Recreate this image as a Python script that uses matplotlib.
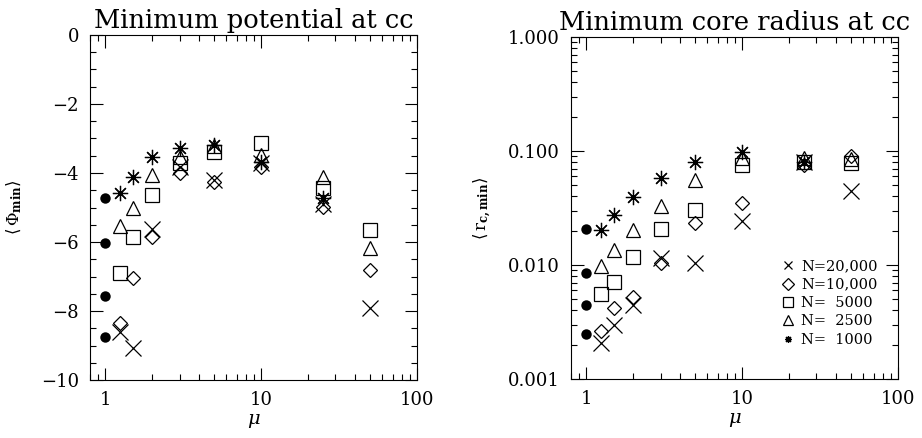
import matplotlib as mpl

mpl.use("Agg")

import matplotlib.pyplot as plt
from matplotlib.lines import Line2D
from matplotlib.ticker import FixedLocator, FuncFormatter, LogLocator, MultipleLocator, NullFormatter

plt.rcParams["font.family"] = ["DejaVu Serif"]
plt.rcParams["mathtext.fontset"] = "dejavuserif"

# mass ratio mu
mu = [1.25, 1.5, 2, 3, 5, 10, 25, 50]
mu_eq = [1, 1, 1, 1]

# minimum potential at core collapse
phi_eq = [-4.73, -6.04, -7.57, -8.76]
phi_n20000 = [-8.60, -9.08, -5.63, -3.82, -4.20, -3.72, -4.90, -7.92]
phi_n10000 = [-8.34, -7.05, -5.86, -4.01, -4.25, -3.82, -4.98, -6.81]
phi_n5000 = [-6.91, -5.86, -4.64, -3.72, -3.39, -3.12, -4.44, -5.65]
phi_n2500 = [-5.54, -5.02, -4.06, -3.55, -3.22, -3.48, -4.11, -6.18]
phi_n1000 = [-4.59, -4.11, -3.53, -3.27, -3.19, -3.69, -4.73, None]

# minimum core radius at core collapse
rc_eq = [0.0205, 0.00858, 0.00446, 0.00249]
rc_n20000 = [0.00209, 0.00299, 0.00446, 0.0116, 0.0104, 0.0243, 0.080, 0.0446]
rc_n10000 = [0.00266, 0.00418, 0.00528, 0.0105, 0.0234, 0.0353, 0.075, 0.090]
rc_n5000 = [0.00553, 0.00714, 0.0118, 0.0205, 0.0303, 0.075, 0.080, 0.079]
rc_n2500 = [0.0099, 0.0135, 0.0202, 0.033, 0.056, 0.086, 0.086, 0.085]
rc_n1000 = [0.0203, 0.0274, 0.0397, 0.0585, 0.080, 0.098, 0.080, None]

labels = ["N=20,000", "N=10,000", "N=  5000", "N=  2500", "N=  1000"]

ASTER = (8, 2, 0)
styles = [
    dict(marker="x", ms=11),
    dict(marker="D", ms=7.5),
    dict(marker="s", ms=10),
    dict(marker="^", ms=10.5),
    dict(marker=ASTER, ms=11),
]


def draw_series(ax, series, eq):
    for ys, st in zip(series, styles):
        pts = [(x, y) for x, y in zip(mu, ys) if y is not None]
        ax.plot([p[0] for p in pts], [p[1] for p in pts], linestyle="none",
                marker=st["marker"], markersize=st["ms"], markerfacecolor="none",
                markeredgecolor="black", markeredgewidth=0.9, color="black")
    ax.plot(mu_eq, eq, linestyle="none", marker="o", markersize=7.5,
            color="black", markeredgewidth=0)


def style_axes(ax):
    ax.set_xscale("log")
    ax.set_xlim(0.8, 100)
    ax.tick_params(which="both", direction="in", top=True, right=True, labelsize=13, pad=8)
    ax.tick_params(which="major", length=9, width=0.8)
    ax.tick_params(which="minor", length=4.5, width=0.8)
    ax.xaxis.set_major_formatter(FuncFormatter(lambda v, p: f"{v:g}"))
    ax.xaxis.set_minor_formatter(NullFormatter())
    ax.set_xlabel(r"$\mu$", fontsize=14, labelpad=2)
    for s in ax.spines.values():
        s.set_linewidth(0.8)


fig = plt.figure(figsize=(9.22, 4.38), dpi=100)
ax1 = fig.add_axes([0.0976, 0.1324, 0.3547, 0.7877])
ax2 = fig.add_axes([0.6193, 0.1347, 0.3547, 0.7808])

draw_series(ax1, [phi_n20000, phi_n10000, phi_n5000, phi_n2500, phi_n1000], phi_eq)
style_axes(ax1)
ax1.set_ylim(-10, 0)
ax1.yaxis.set_major_locator(MultipleLocator(2))
ax1.yaxis.set_minor_locator(MultipleLocator(0.5))
ax1.yaxis.set_major_formatter(FuncFormatter(lambda v, p: f"{v:.0f}".replace("-", "\u2212")))
ax1.set_ylabel(r"$\langle\,\Phi_{\mathbf{min}}\rangle$", fontsize=12, labelpad=12)
ax1.set_title("Minimum potential at cc", fontsize=18.5, pad=5)

draw_series(ax2, [rc_n20000, rc_n10000, rc_n5000, rc_n2500, rc_n1000], rc_eq)
style_axes(ax2)
ax2.set_yscale("log")
ax2.set_ylim(0.001, 1.0)
ax2.yaxis.set_major_locator(FixedLocator([0.001, 0.01, 0.1, 1.0]))
ax2.yaxis.set_minor_locator(LogLocator(base=10, subs=range(2, 10)))
ax2.yaxis.set_major_formatter(FuncFormatter(lambda v, p: f"{v:.3f}"))
ax2.yaxis.set_minor_formatter(NullFormatter())
ax2.set_ylabel(r"$\langle\,\mathrm{r}_{\mathbf{c,min}}\rangle$", fontsize=12, labelpad=10)
ax2.set_title("Minimum core radius at cc", fontsize=18.5, pad=5)

handles = []
leg_ms = [6, 6, 7, 7, 5]
leg_markers = ["x", "D", "s", "^", ASTER]
for mk, lab, m in zip(leg_markers, labels, leg_ms):
    handles.append(Line2D([], [], linestyle="none", marker=mk, markersize=m,
                          markerfacecolor="none", markeredgecolor="black",
                          markeredgewidth=0.9, label=lab))
ax2.legend(handles=handles, loc="upper left", bbox_to_anchor=(0.645, 0.35),
           frameon=False, fontsize=10.5, handlelength=0.8, handletextpad=0.5,
           labelspacing=0.3, borderaxespad=0, borderpad=0)

fig.savefig("out.png", dpi=100, facecolor="white")
